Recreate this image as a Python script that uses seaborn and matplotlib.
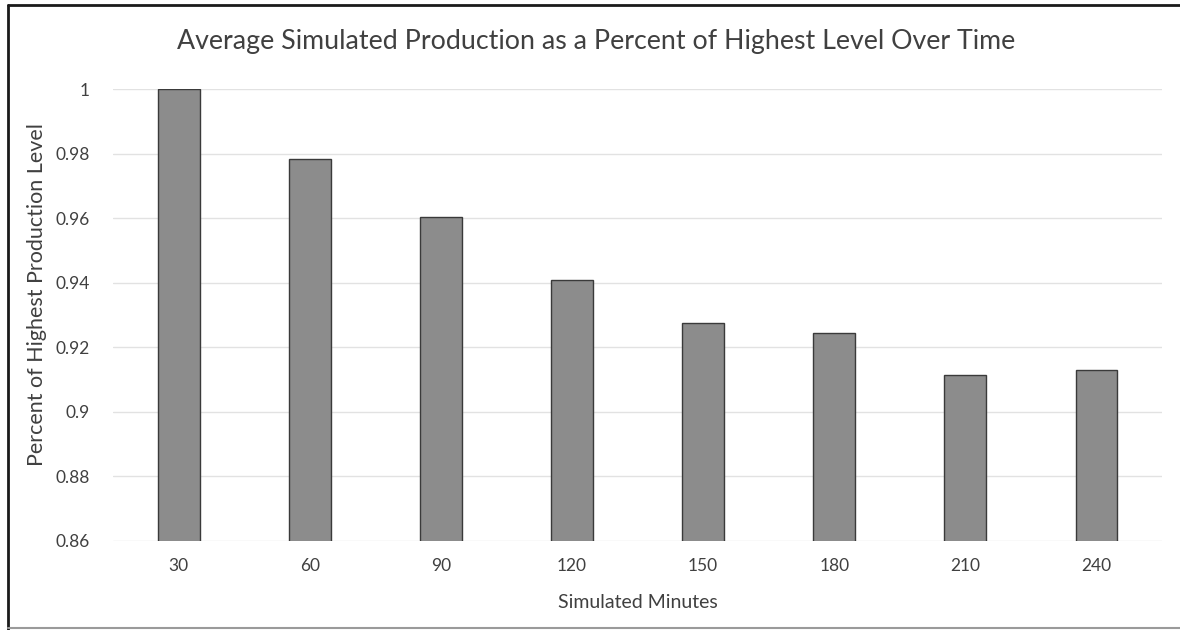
import matplotlib
matplotlib.use("Agg")
import matplotlib.pyplot as plt
from matplotlib.lines import Line2D
import seaborn as sns
import pandas as pd

minutes = ["30", "60", "90", "120", "150", "180", "210", "240"]
production = [1.0, 0.9782, 0.9604, 0.9408, 0.9276, 0.9243, 0.9113, 0.9130]
y_ticks = [0.86, 0.88, 0.9, 0.92, 0.94, 0.96, 0.98, 1.0]
y_tick_labels = ["0.86", "0.88", "0.9", "0.92", "0.94", "0.96", "0.98", "1"]

sns.set_theme(style="white")
plt.rcParams["font.family"] = ["Lato", "DejaVu Sans"]

df = pd.DataFrame({"minutes": minutes, "production": production})

fig = plt.figure(figsize=(11.8, 6.3), dpi=100)
ax = fig.add_axes([0.0958, 0.1413, 0.889, 0.7174])

sns.barplot(data=df, x="minutes", y="production", order=minutes,
            color="#8c8c8c", saturation=1, width=0.32,
            edgecolor="#3a3a3a", linewidth=1.0, ax=ax, zorder=3)

ax.set_ylim(0.86, 1.0)
ax.set_yticks(y_ticks)
ax.set_yticklabels(y_tick_labels)
ax.yaxis.grid(True, color="#e2e2e2", linewidth=1.0, zorder=0)
ax.set_axisbelow(True)
for s in ax.spines.values():
    s.set_visible(False)
ax.tick_params(axis="both", length=0, labelsize=12.5, labelcolor="#404040")
ax.tick_params(axis="y", pad=17)
ax.tick_params(axis="x", pad=12)

ax.set_xlabel("Simulated Minutes", fontsize=14, color="#404040", labelpad=15)
ax.set_ylabel("Percent of Highest Production Level", fontsize=15.5,
              color="#404040")
ax.yaxis.set_label_coords(-0.063, 0.545)

fig.text(0.505, 0.934, "Average Simulated Production as a Percent of Highest Level Over Time",
         ha="center", va="center", fontsize=19.3, color="#404040")

# outer frame
fig.add_artist(Line2D([0.007, 0.007], [0.0, 0.992], transform=fig.transFigure,
                      color="#1a1a1a", linewidth=2))
fig.add_artist(Line2D([0.007, 1.0], [0.992, 0.992], transform=fig.transFigure,
                      color="#1a1a1a", linewidth=2))
fig.add_artist(Line2D([0.007, 1.0], [0.003, 0.003], transform=fig.transFigure,
                      color="#9a9a9a", linewidth=1.5))

fig.savefig("out.png", dpi=100)
